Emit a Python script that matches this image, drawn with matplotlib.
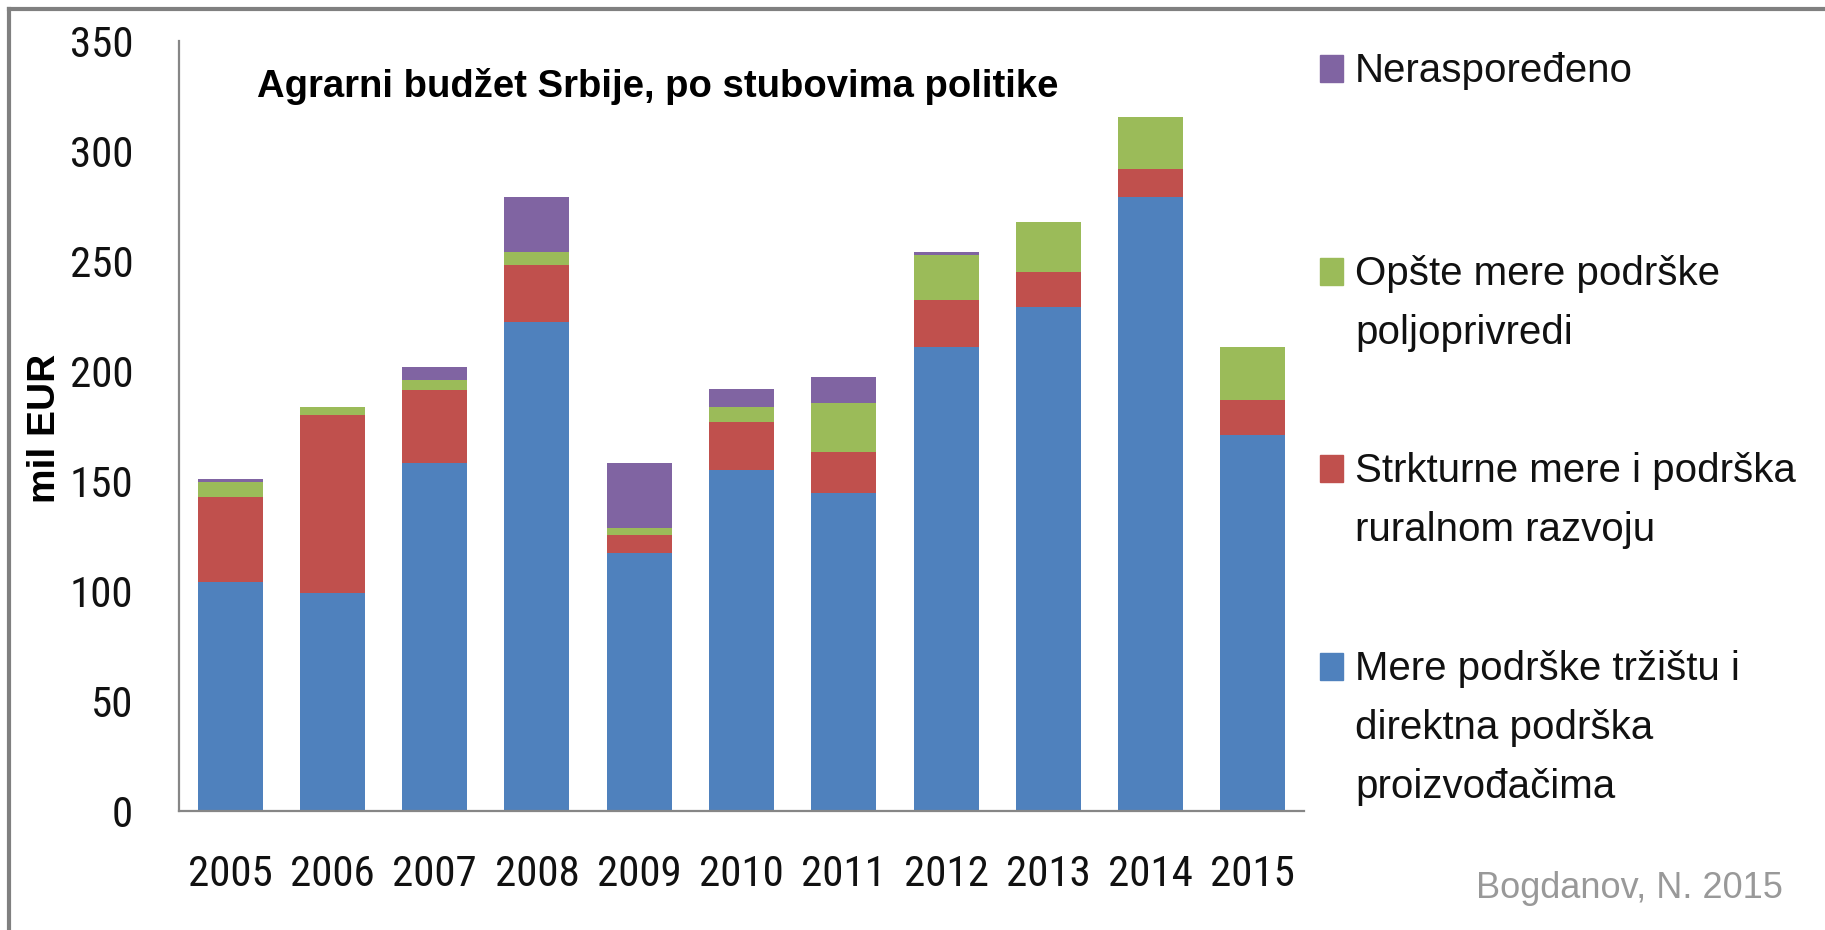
import matplotlib
matplotlib.use("Agg")
import matplotlib.pyplot as plt
from matplotlib import font_manager
from matplotlib.lines import Line2D
from matplotlib.patches import Rectangle
import numpy as np

# data (mil EUR)
years = ["2005", "2006", "2007", "2008", "2009", "2010", "2011", "2012", "2013", "2014", "2015"]
market = [104.0, 99.2, 158.4, 222.1, 117.4, 155.0, 144.7, 210.8, 228.9, 278.9, 170.9]
rural = [38.6, 80.8, 33.0, 26.1, 8.1, 21.7, 18.3, 21.6, 15.9, 12.8, 16.0]
general = [6.8, 3.5, 4.5, 5.7, 3.3, 6.8, 22.6, 20.5, 23.1, 23.9, 23.9]
unalloc = [1.3, 0.0, 5.8, 25.0, 29.5, 8.2, 11.7, 1.3, 0.0, 0.0, 0.0]

series_labels = [
    ["Mere podrške tržištu i", "direktna podrška", "proizvođačima"],
    ["Strkturne mere i podrška", "ruralnom razvoju"],
    ["Opšte mere podrške", "poljoprivredi"],
    ["Neraspoređeno"],
]
colors = ["#4F81BD", "#C0504D", "#9BBB59", "#8064A2"]

# a narrow face for the numbers if one is installed
installed = {f.name for f in font_manager.fontManager.ttflist}
tick_family, tick_size = "Liberation Sans", 27.5
for name in ["Liberation Sans Narrow", "Roboto Condensed"]:
    if name in installed:
        tick_family, tick_size = name, 31
        break

W, H = 1825, 930
fig = plt.figure(figsize=(W / 100, H / 100), dpi=100)
ax = fig.add_axes([179 / W, 1 - 811 / H, (1304 - 179) / W, (811 - 41) / H])

x = np.arange(len(years))
bottom = np.zeros(len(years))
for vals, c in zip([market, rural, general, unalloc], colors):
    ax.bar(x, vals, width=0.635, bottom=bottom, color=c, linewidth=0)
    bottom += np.array(vals)

ax.set_xlim(-0.5, len(years) - 0.5)
ax.set_ylim(0, 350)
ax.set_yticks(range(0, 351, 50))
ax.set_xticks(x)
ax.set_xticklabels(years)

for lab in ax.get_xticklabels() + ax.get_yticklabels():
    lab.set_family(tick_family)
    lab.set_fontsize(tick_size)
    lab.set_color("#111111")
ax.tick_params(axis="both", length=0)
ax.tick_params(axis="y", pad=33)
ax.tick_params(axis="x", pad=31)

for s in ["top", "right"]:
    ax.spines[s].set_visible(False)
for s in ["left", "bottom"]:
    ax.spines[s].set_color("#868686")
    ax.spines[s].set_linewidth(1.6)

# title and axis label
fig.text(257 / W, 1 - 97 / H, "Agrarni budžet Srbije, po stubovima politike",
         family="Liberation Sans", fontweight="bold", fontsize=27.5, va="baseline")
fig.text(45 / W, 1 - 428 / H, "mil EUR", family="Liberation Sans", fontweight="bold",
         fontsize=28, rotation=90, ha="center", va="center")

# legend drawn at the right, squares aligned with the first line
leg_base = [680, 482, 285, 82]
line_step = 59
for lines, c, yb in zip(series_labels, colors, leg_base):
    fig.patches.append(Rectangle((1320 / W, 1 - yb / H), 23 / W, 27 / H,
                                 transform=fig.transFigure, color=c))
    for i, line in enumerate(lines):
        fig.text(1355 / W, 1 - (yb + i * line_step) / H, line, family="Liberation Sans",
                 fontsize=29, va="baseline", ha="left", color="#111111")

fig.text(1783 / W, 1 - 898 / H, "Bogdanov, N. 2015", family="Liberation Sans",
         fontsize=26, color="#999999", ha="right", va="baseline")

# outer frame (top and left only visible)
fig.add_artist(Line2D([9 / W, 1], [1 - 9 / H, 1 - 9 / H], transform=fig.transFigure,
                      color="#808080", linewidth=3))
fig.add_artist(Line2D([9 / W, 9 / W], [0, 1 - 9 / H], transform=fig.transFigure,
                      color="#808080", linewidth=3))

fig.savefig("out.png", dpi=100)
